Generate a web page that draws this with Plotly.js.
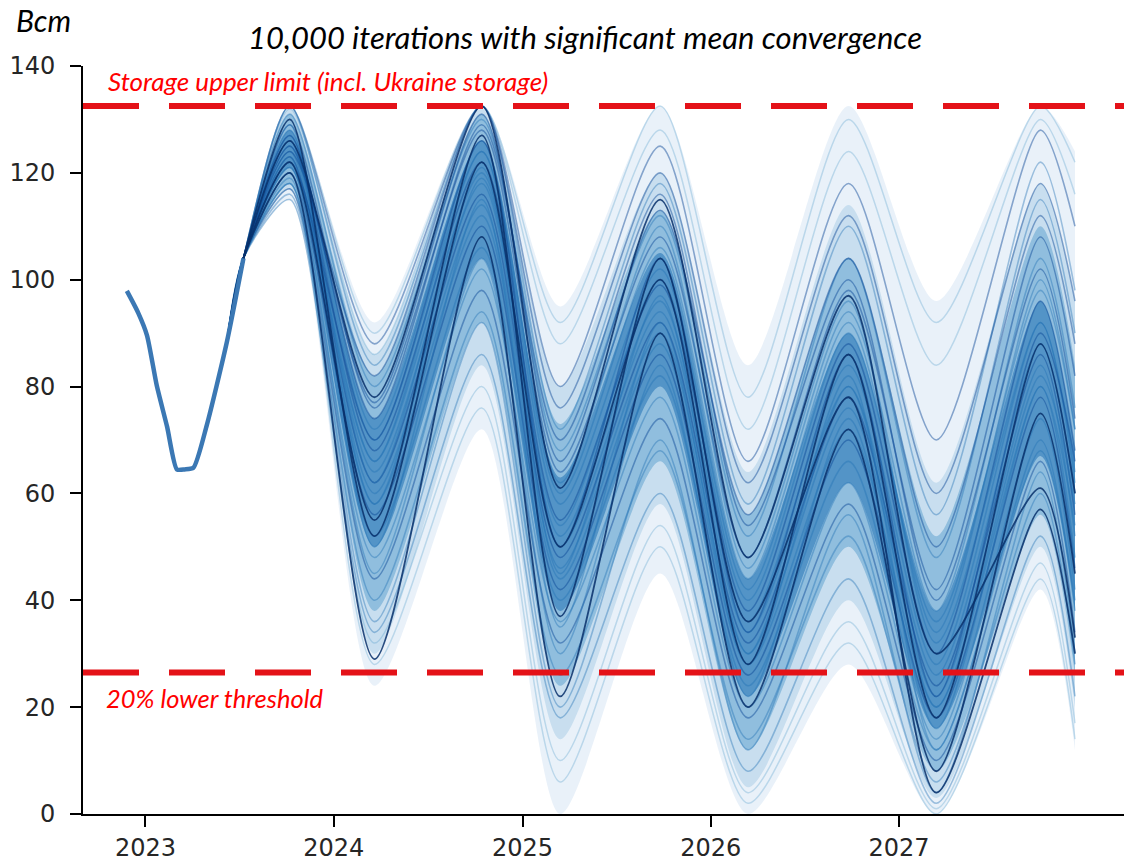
<!DOCTYPE html>
<html>
<head>
<meta charset="utf-8">
<script src="https://cdn.plot.ly/plotly-3.0.1.min.js"></script>
<style>html,body{margin:0;padding:0;background:#fff;}#chart{width:1124px;height:863px;}</style>
</head>
<body>
<div id="chart"></div>
<script>
// ---- observed history (single line) ----
const historyDates  = ['2022-11-26','2022-12-18','2023-01-04','2023-01-23','2023-02-12','2023-03-03','2023-03-18','2023-04-04','2023-04-30','2023-06-08','2023-07-10'];
const historyValues = [97.9, 93.8, 89.6, 80.2, 72.5, 64.5, 64.5, 64.8, 72.8, 88.4, 104];

// ---- simulated fan: shared head + key dates (peaks / troughs / end) ----
const fanHeadDates  = ['2023-06-08','2023-07-10'];
const fanHeadValues = [88.4, 104];
const keyDates = ['2023-10-08','2024-03-20','2024-10-14','2025-03-15','2025-09-25','2026-03-14','2026-09-25','2027-03-14','2027-10-02','2027-12-08'];

// envelope quantiles (Bcm)
const q0   = [115,   24, 72,    0,  45,    0,  28,    0,  42,    12];
const q05  = [117,   30, 84,   14,  58,    5,  40,    3,  50,    20];
const q10  = [118,   38, 92,   24,  66,   12,  50,    8,  56,    26];
const q25  = [121,   50, 104,  38,  80,   22,  62,   16,  67,    38];
const q75  = [128,   74, 126,  63, 105,   44,  90,   38,  96,    68];
const q90  = [131,   82, 131,  73, 113,   56, 104,   52, 110,    84];
const q95  = [132,   86, 132,  80, 120,   64, 114,   62, 118,    96];
const q100 = [132.5, 92, 132.5, 95, 132.5, 84, 132.5, 96, 132.5, 124];

// individual visible iterations
const simPaths = [
  [132.5, 88, 132.5, 80, 125, 66, 118, 70, 128, 110],
  [132.5, 84, 132.5, 72, 118, 58, 110, 56, 122, 98],
  [131, 80, 130, 68, 112, 52, 104, 48, 115, 90],
  [129, 76, 128, 64, 108, 48, 98, 42, 108, 82],
  [128, 72, 126, 60, 106, 44, 94, 38, 104, 76],
  [127, 70, 124, 58, 102, 42, 92, 34, 100, 72],
  [126, 68, 122, 55, 99, 38, 88, 30, 96, 68],
  [125, 66, 120, 52, 96, 36, 84, 28, 92, 64],
  [124, 64, 118, 50, 94, 34, 80, 26, 88, 60],
  [123, 62, 116, 48, 92, 32, 78, 24, 86, 56],
  [122, 60, 114, 46, 90, 30, 76, 22, 84, 52],
  [121, 58, 112, 44, 88, 28, 72, 20, 80, 48],
  [120, 56, 110, 42, 86, 26, 70, 18, 78, 46],
  [119, 52, 106, 40, 82, 24, 66, 14, 74, 42],
  [118, 48, 102, 36, 78, 20, 62, 12, 70, 38],
  [117, 44, 98, 32, 74, 18, 58, 10, 66, 34],
  [116, 40, 94, 26, 68, 14, 52, 6, 60, 28],
  [115, 34, 86, 18, 60, 8, 44, 2, 52, 22],
  [125, 77, 131, 66, 113, 56, 104, 50, 112, 88],
  [123, 58, 119, 54, 100, 40, 90, 36, 98, 72],
  [121, 66, 124, 62, 110, 46, 96, 32, 92, 62],
  [127, 74, 129, 70, 116, 54, 100, 40, 102, 74],
  [129, 50, 115, 35, 92, 28, 80, 20, 82, 58],
  [120, 45, 104, 30, 84, 22, 74, 16, 80, 54],
  [124, 82, 132.5, 76, 120, 62, 112, 60, 118, 96],
  [118, 36, 92, 20, 70, 12, 56, 4, 64, 30],
  [126, 62, 121, 45, 97, 30, 82, 12, 68, 40],
  [122, 70, 126, 50, 104, 34, 86, 22, 90, 66]
];
const faintPaths = [
  [132.5, 90, 132.5, 92, 132.5, 78, 130, 92, 132.5, 122],
  [132, 86, 132.5, 88, 128, 72, 124, 84, 130, 116],
  [118, 28, 76, 6, 50, 2, 32, 0, 44, 14],
  [117, 32, 80, 10, 54, 4, 36, 1, 47, 17]
];
const darkPaths = [
  [126, 78, 132.5, 61, 115, 48, 97, 30, 61, 33],
  [122, 55, 127, 37, 104, 36, 78, 4, 57, 30],
  [120, 29, 108, 22, 90, 20, 72, 8, 75, 45],
  [130, 52, 122, 50, 100, 28, 86, 18, 88, 60]
];

const upperLimit = 132.5;
const lowerThreshold = 26.5;
const yTicks = [0, 20, 40, 60, 80, 100, 120, 140];
const xTickVals = ['2023-01-01','2024-01-01','2025-01-01','2026-01-01','2027-01-01'];
const xTickText = ['2023','2024','2025','2026','2027'];

const fanX = fanHeadDates.concat(keyDates);
const full = arr => fanHeadValues.concat(arr);
const SM = 0.75;

const traces = [];
function band(lo, hi, color) {
  traces.push({x: fanX, y: full(lo), mode: 'lines', line: {width: 0, shape: 'spline', smoothing: SM}, hoverinfo: 'skip', showlegend: false});
  traces.push({x: fanX, y: full(hi), mode: 'lines', line: {width: 0, shape: 'spline', smoothing: SM}, fill: 'tonexty', fillcolor: color, hoverinfo: 'skip', showlegend: false});
}
band(q0, q100, 'rgba(198,219,239,0.38)');
band(q05, q95, 'rgba(150,196,226,0.40)');
band(q10, q90, 'rgba(66,146,198,0.42)');
band(q25, q75, 'rgba(33,113,181,0.55)');

faintPaths.forEach(p => traces.push({x: fanX, y: full(p), mode: 'lines', line: {color: 'rgba(66,146,198,0.28)', width: 1.5, shape: 'spline', smoothing: SM}, hoverinfo: 'skip', showlegend: false}));
simPaths.forEach((p, i) => traces.push({x: fanX, y: full(p), mode: 'lines', line: {color: (i % 3 === 0) ? 'rgba(8,69,148,0.45)' : 'rgba(33,113,181,0.40)', width: 1.6, shape: 'spline', smoothing: SM}, hoverinfo: 'skip', showlegend: false}));
darkPaths.forEach(p => traces.push({x: fanX, y: full(p), mode: 'lines', line: {color: 'rgba(8,48,107,0.85)', width: 1.8, shape: 'spline', smoothing: SM}, hoverinfo: 'skip', showlegend: false}));

traces.push({x: historyDates, y: historyValues, mode: 'lines', line: {color: '#3b78b4', width: 4.5, shape: 'spline', smoothing: 0.6}, hoverinfo: 'skip', showlegend: false});

const layout = {
  width: 1124, height: 863,
  margin: {l: 83, r: 0, t: 66, b: 49},
  paper_bgcolor: '#fff', plot_bgcolor: '#fff',
  showlegend: false,
  xaxis: {
    type: 'date', range: ['2022-09-02', '2028-03-12'],
    tickvals: xTickVals, ticktext: xTickText,
    showgrid: false, zeroline: false,
    showline: true, linecolor: '#000', linewidth: 2,
    ticks: 'outside', ticklen: 11, tickwidth: 2, tickcolor: '#000',
    ticklabelstandoff: 0,
    tickfont: {family: 'DejaVu Sans', size: 24, color: '#262626'}
  },
  yaxis: {
    range: [0, 140], tickvals: yTicks,
    showgrid: false, zeroline: false,
    showline: true, linecolor: '#000', linewidth: 2,
    ticks: 'outside', ticklen: 11, tickwidth: 2, tickcolor: '#000',
    ticklabelstandoff: 10,
    tickfont: {family: 'DejaVu Sans', size: 24, color: '#262626'}
  },
  shapes: [
    {type: 'line', xref: 'paper', x0: 0, x1: 1, yref: 'y', y0: upperLimit, y1: upperLimit, line: {color: 'rgb(228,18,24)', width: 6, dash: '56px,30px'}},
    {type: 'line', xref: 'paper', x0: 0, x1: 1, yref: 'y', y0: lowerThreshold, y1: lowerThreshold, line: {color: 'rgb(228,18,24)', width: 6, dash: '56px,30px'}}
  ],
  annotations: [
    {text: '<i>10,000 iterations with significant mean convergence</i>', xref: 'paper', yref: 'paper', x: 0.482, y: 1, yshift: 29, xanchor: 'center', yanchor: 'middle', showarrow: false, font: {family: 'Lato', size: 31, color: '#000'}},
    {text: '<i>Bcm</i>', xref: 'paper', yref: 'paper', x: 0, xshift: -69, y: 1, yshift: 46, xanchor: 'left', yanchor: 'middle', showarrow: false, font: {family: 'Lato', size: 30, color: '#000'}},
    {text: '<i>Storage upper limit (incl. Ukraine storage)</i>', xref: 'paper', yref: 'y', x: 0, xshift: 23, y: upperLimit, yshift: 25, xanchor: 'left', yanchor: 'middle', showarrow: false, font: {family: 'Lato', size: 26, color: '#ff0000'}},
    {text: '<i>20% lower threshold</i>', xref: 'paper', yref: 'y', x: 0, xshift: 21, y: lowerThreshold, yshift: -26, xanchor: 'left', yanchor: 'middle', showarrow: false, font: {family: 'Lato', size: 25.5, color: '#ff0000'}}
  ]
};

Plotly.newPlot('chart', traces, layout, {displayModeBar: false, staticPlot: true});
</script>
</body>
</html>
